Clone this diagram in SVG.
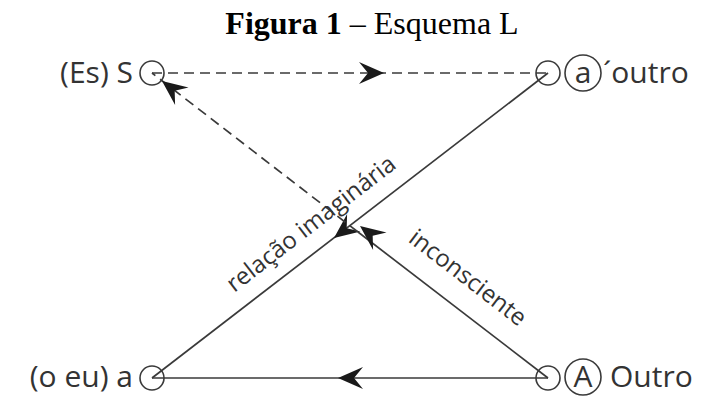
<svg xmlns="http://www.w3.org/2000/svg" width="722" height="396" viewBox="0 0 722 396">
<style>
.ln{stroke:#3a3a3a;stroke-width:1.7;fill:none}
.ds{stroke-dasharray:10 6}
.nd{stroke:#3a3a3a;stroke-width:1.6;fill:none}
.lb{font-family:"Open Sans","Noto Sans",sans-serif;font-size:30px;fill:#333}
.rl{font-family:"Open Sans","Noto Sans",sans-serif;font-size:24px;fill:#333}
.ah{fill:#1a1a1a}
</style>
<defs>
<path id="arr" d="M0,0 L-25,-11 L-16,0 L-25,11 Z"/>
</defs>
<rect width="722" height="396" fill="#fff"/>
<text x="372" y="34" text-anchor="middle" font-family="'Liberation Serif',serif" font-size="32" fill="#000"><tspan font-weight="bold">Figura 1</tspan> – Esquema L</text>

<g id="connectors">
<line class="ln ds" x1="152" y1="73" x2="548" y2="73"/>
<use href="#arr" class="ah" transform="translate(384,73)"/>
<line class="ln" x1="548" y1="73" x2="152" y2="378"/>
<use href="#arr" class="ah" transform="translate(334,238) rotate(142.4)"/>
<line class="ln" x1="548" y1="378" x2="358" y2="232"/>
<line class="ln ds" x1="358" y1="232" x2="152" y2="73"/>
<use href="#arr" class="ah" transform="translate(360,226) rotate(-142.4)"/>
<use href="#arr" class="ah" transform="translate(162,81) rotate(-142.4)"/>
<line class="ln" x1="548" y1="378" x2="152" y2="378"/>
<use href="#arr" class="ah" transform="translate(338,378) rotate(180)"/>
<text class="rl" transform="translate(316,230) rotate(-37.6)" text-anchor="middle">relação imaginária</text>
<text class="rl" transform="translate(463,284) rotate(37.6)" text-anchor="middle">inconsciente</text>
</g>

<g id="S">
<circle class="nd" cx="152" cy="73" r="12"/>
<text class="lb" x="133" y="83" text-anchor="end">(Es) S</text>
</g>
<g id="a-prime">
<circle class="nd" cx="548" cy="73" r="12"/>
<circle class="nd" cx="583" cy="73" r="18"/>
<text class="lb" x="583" y="83" text-anchor="middle">a</text>
<text class="lb" x="603" y="83">´outro</text>
</g>
<g id="a">
<circle class="nd" cx="152" cy="378" r="12"/>
<text class="lb" x="133" y="387" text-anchor="end">(o eu) a</text>
</g>
<g id="A">
<circle class="nd" cx="548" cy="378" r="12"/>
<circle class="nd" cx="583" cy="377" r="18"/>
<text class="lb" x="583" y="387" text-anchor="middle">A</text>
<text class="lb" x="610" y="387">Outro</text>
</g>
</svg>
